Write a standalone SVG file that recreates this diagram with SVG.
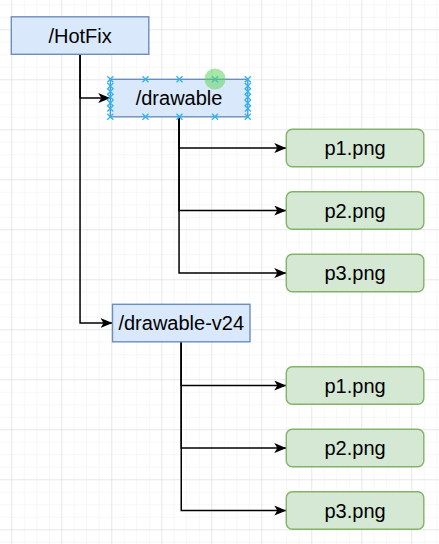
<svg xmlns="http://www.w3.org/2000/svg" width="439" height="544" viewBox="0 0 439 544">
<defs>
  <pattern id="minor" x="11.3" y="29.3" width="12.5" height="12.5" patternUnits="userSpaceOnUse">
    <path d="M0 0H12.5M0 0V12.5" fill="none" stroke="#f0f0f0" stroke-width="1"/>
  </pattern>
  <pattern id="major" x="11.3" y="29.3" width="50" height="50" patternUnits="userSpaceOnUse">
    <path d="M0 0H50M0 0V50" fill="none" stroke="#d9d9d9" stroke-width="1"/>
  </pattern>
  <marker id="arr" viewBox="0 0 12 10" refX="12" refY="5" markerWidth="12" markerHeight="10" markerUnits="userSpaceOnUse" orient="auto">
    <path d="M0 0L12 5L0 10L3 5Z" fill="#000"/>
  </marker>
  <path id="hx" d="M-3 -3L3 3M-3 3L3 -3"/>
</defs>
<style>
  .blue rect{fill:#dae8fc;stroke:#6c8ebf;stroke-width:1.4}
  .green rect{fill:#d5e8d4;stroke:#82b366;stroke-width:1.4}
  text{font-family:"Liberation Sans",Arial,sans-serif;font-size:20px;fill:#000;text-anchor:middle;dominant-baseline:central}
  .edge{fill:none;stroke:#000;stroke-width:1.5;marker-end:url(#arr)}
  .h use{stroke:#29b6f2;stroke-width:1.3;fill:none}
</style>
<rect width="439" height="544" fill="#fff"/>
<rect width="439" height="544" fill="url(#minor)"/>
<rect width="439" height="544" fill="url(#major)"/>

<g id="connectors">
  <path class="edge" d="M80.05 54.3V98.05H110.3"/>
  <path class="edge" d="M80.05 54.3V323.05H112.5"/>
  <path class="edge" d="M179.05 116.8V148.05H286.3"/>
  <path class="edge" d="M179.05 116.8V210.55H286.3"/>
  <path class="edge" d="M179.05 116.8V273.05H286.3"/>
  <path class="edge" d="M181.25 341.8V385.55H286.3"/>
  <path class="edge" d="M181.25 341.8V448.05H286.3"/>
  <path class="edge" d="M181.25 341.8V510.55H286.3"/>
</g>

<g id="hotfix" class="blue"><rect x="11.3" y="16.8" width="137.5" height="37.5"/><text x="80.05" y="35.55">/HotFix</text></g>
<g id="drawable" class="blue"><rect x="110.3" y="79.3" width="137.5" height="37.5"/><text x="179.05" y="98.05">/drawable</text></g>
<g id="drawable-v24" class="blue"><rect x="112.5" y="304.3" width="137.5" height="37.5"/><text x="181.25" y="323.05">/drawable-v24</text></g>

<g id="p1a" class="green"><rect x="286.3" y="129.3" width="137.5" height="37.5" rx="6"/><text x="355.05" y="148.05">p1.png</text></g>
<g id="p2a" class="green"><rect x="286.3" y="191.8" width="137.5" height="37.5" rx="6"/><text x="355.05" y="210.55">p2.png</text></g>
<g id="p3a" class="green"><rect x="286.3" y="254.3" width="137.5" height="37.5" rx="6"/><text x="355.05" y="273.05">p3.png</text></g>
<g id="p1b" class="green"><rect x="286.3" y="366.8" width="137.5" height="37.5" rx="6"/><text x="355.05" y="385.55">p1.png</text></g>
<g id="p2b" class="green"><rect x="286.3" y="429.3" width="137.5" height="37.5" rx="6"/><text x="355.05" y="448.05">p2.png</text></g>
<g id="p3b" class="green"><rect x="286.3" y="491.8" width="137.5" height="37.5" rx="6"/><text x="355.05" y="510.55">p3.png</text></g>

<g id="selection" class="h">
  <use href="#hx" x="110.3" y="79.3"/><use href="#hx" x="145.5" y="79.3"/><use href="#hx" x="179.5" y="79.3"/><use href="#hx" x="215" y="79.3"/><use href="#hx" x="247.8" y="79.3"/>
  <use href="#hx" x="110.3" y="116.8"/><use href="#hx" x="145.5" y="116.8"/><use href="#hx" x="179.5" y="116.8"/><use href="#hx" x="215" y="116.8"/><use href="#hx" x="247.8" y="116.8"/>
  <use href="#hx" x="110.3" y="86"/><use href="#hx" x="110.3" y="91.5"/><use href="#hx" x="110.3" y="97"/><use href="#hx" x="110.3" y="103"/><use href="#hx" x="110.3" y="108.5"/>
  <use href="#hx" x="247.8" y="86"/><use href="#hx" x="247.8" y="91.5"/><use href="#hx" x="247.8" y="97"/><use href="#hx" x="247.8" y="103"/><use href="#hx" x="247.8" y="108.5"/>
  <circle cx="215" cy="79" r="10.5" fill="#5fd35f" fill-opacity="0.55"/>
</g>
</svg>
